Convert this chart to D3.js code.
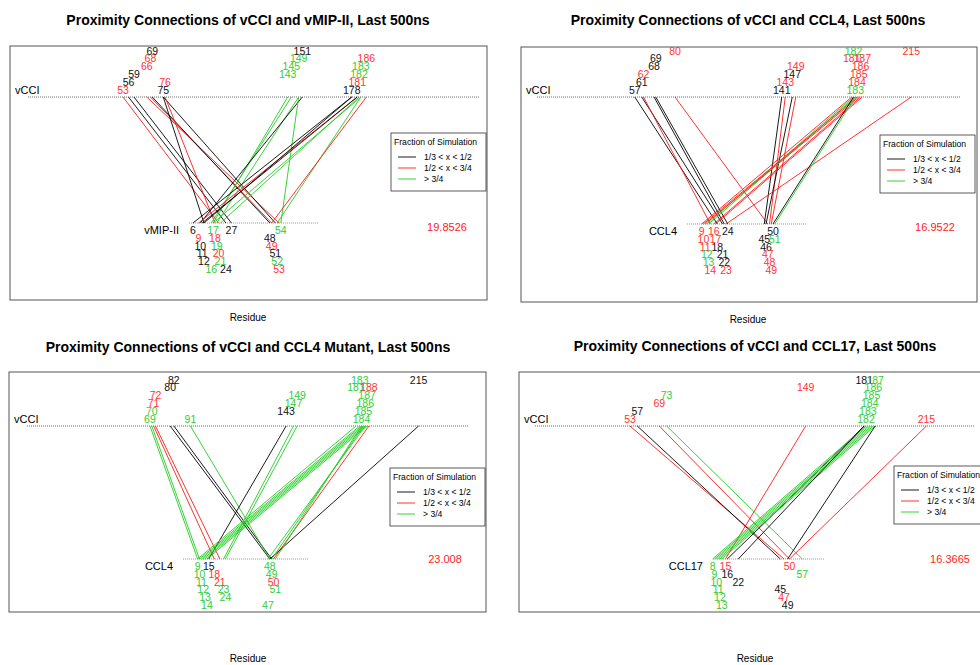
<!DOCTYPE html>
<html>
<head>
<meta charset="utf-8">
<script src="https://cdn.jsdelivr.net/npm/d3@7"></script>
<style>
  body { margin: 0; background: #fff; }
  svg { display: block; font-family: "Liberation Sans", Arial, sans-serif; }
</style>
</head>
<body>
<svg id="chart" width="980" height="665"></svg>
<script>
// class: 1 = 1/3 < x < 1/2, 2 = 1/2 < x < 3/4, 3 = > 3/4

const titles = [
    'Proximity Connections of vCCI and vMIP-II, Last 500ns',
    'Proximity Connections of vCCI and CCL4, Last 500ns',
    'Proximity Connections of vCCI and CCL4 Mutant, Last 500ns',
    'Proximity Connections of vCCI and CCL17, Last 500ns',
];
const partners = ['vMIP-II', 'CCL4', 'CCL4', 'CCL17'];
const scores = ['19.8526', '16.9522', '23.008', '16.3665'];
const legendLabels = ['1/3 < x < 1/2', '1/2 < x < 3/4', '> 3/4'];

// vMIP-II panel
const p1Top = [53, 56, 59, 66, 68, 69, 75, 76, 143, 145, 149, 151, 178, 181, 182, 183, 186];
const p1TopCls = [2, 1, 1, 2, 2, 1, 1, 2, 3, 3, 3, 1, 1, 2, 3, 3, 2];
const p1Bot = [6, 9, 10, 11, 12, 16, 17, 18, 19, 20, 21, 24, 27, 48, 49, 51, 52, 53, 54];
const p1BotCls = [1, 2, 1, 1, 1, 3, 3, 2, 3, 2, 3, 1, 1, 1, 2, 1, 3, 2, 3];
const p1Links = [
    [53, 20, 2], [56, 24, 1], [59, 27, 1], [66, 53, 2], [68, 49, 2], [69, 48, 1],
    [75, 51, 1], [76, 18, 2], [75, 12, 1], [143, 17, 3], [145, 16, 3], [149, 19, 3],
    [151, 10, 1], [149, 54, 3], [178, 6, 1], [181, 9, 2], [182, 21, 3], [183, 17, 3],
    [181, 11, 1], [183, 52, 3], [186, 49, 2], [178, 12, 1],
];

// CCL4 panel
const p2Top = [57, 61, 62, 68, 69, 80, 141, 143, 147, 149, 181, 182, 183, 184, 185, 186, 187, 215];
const p2TopCls = [1, 1, 2, 1, 1, 2, 1, 2, 1, 2, 2, 3, 3, 2, 2, 2, 2, 2];
const p2Bot = [9, 10, 11, 12, 13, 14, 16, 17, 18, 21, 22, 23, 24, 45, 46, 47, 48, 49, 50, 51];
const p2BotCls = [2, 2, 2, 3, 3, 2, 2, 2, 1, 1, 1, 2, 1, 1, 1, 2, 2, 2, 1, 3];
const p2Links = [
    [57, 18, 1], [61, 21, 1], [62, 14, 2], [68, 22, 1], [69, 24, 1], [80, 47, 2],
    [141, 45, 1], [143, 48, 2], [147, 46, 1], [149, 49, 2], [181, 9, 2], [182, 12, 3],
    [183, 13, 3], [184, 10, 2], [185, 11, 2], [186, 16, 2], [187, 17, 2], [215, 23, 2],
    [183, 51, 3], [182, 50, 1],
];

// CCL4 mutant panel
const p3Top = [69, 70, 71, 72, 80, 82, 91, 143, 147, 149, 181, 183, 184, 185, 186, 187, 188, 215];
const p3TopCls = [3, 3, 2, 2, 1, 1, 3, 1, 3, 3, 3, 3, 3, 3, 3, 3, 2, 1];
const p3Bot = [9, 10, 11, 12, 13, 14, 15, 18, 21, 23, 24, 47, 48, 49, 50, 51];
const p3BotCls = [3, 3, 3, 3, 3, 3, 1, 2, 2, 3, 3, 3, 3, 3, 2, 3];
const p3Links = [
    [69, 9, 3], [70, 10, 3], [71, 18, 2], [72, 21, 2], [80, 48, 1], [82, 49, 1],
    [91, 48, 3], [143, 15, 1], [147, 23, 3], [149, 24, 3], [181, 9, 3], [183, 10, 3],
    [184, 11, 3], [185, 12, 3], [186, 13, 3], [187, 14, 3], [188, 50, 2], [215, 48, 1],
    [184, 51, 3], [186, 47, 3], [185, 49, 3],
];

// CCL17 panel
const p4Top = [53, 57, 69, 73, 149, 181, 182, 183, 184, 185, 186, 187, 215];
const p4TopCls = [2, 1, 2, 3, 2, 1, 3, 3, 3, 3, 3, 3, 2];
const p4Bot = [8, 9, 10, 11, 12, 13, 15, 16, 22, 45, 47, 49, 50, 57];
const p4BotCls = [3, 3, 3, 3, 3, 3, 2, 1, 1, 1, 2, 1, 2, 3];
const p4Links = [
    [53, 47, 2], [57, 45, 1], [69, 50, 2], [73, 57, 3], [149, 15, 2], [181, 16, 1],
    [182, 8, 3], [183, 9, 3], [184, 10, 3], [185, 11, 3], [186, 12, 3], [187, 13, 3],
    [215, 50, 2], [181, 22, 1], [187, 49, 1],
];

const panelData = [
    { top: p1Top, topCls: p1TopCls, bot: p1Bot, botCls: p1BotCls, links: p1Links },
    { top: p2Top, topCls: p2TopCls, bot: p2Bot, botCls: p2BotCls, links: p2Links },
    { top: p3Top, topCls: p3TopCls, bot: p3Bot, botCls: p3BotCls, links: p3Links },
    { top: p4Top, topCls: p4TopCls, bot: p4Bot, botCls: p4BotCls, links: p4Links },
];

// layout of each panel (pixels)
const layout = [
    { box: [10, 46, 477, 254], titleX: 248, titleY: 25, resY: 321, topY: 97, botY: 223,
      top: [26, 1.83], topLine: [28, 480], bot: [182, 1.83], botLine: [189, 318],
      score: [447, 231], legend: [391, 133] },
    { box: [521, 47, 456, 255], titleX: 748, titleY: 25, resY: 323, topY: 97, botY: 224,
      top: [535, 1.75], topLine: [537, 960], bot: [686, 1.74], botLine: [687, 807],
      score: [935, 231], legend: [880, 135] },
    { box: [9, 372, 477, 240], titleX: 248, titleY: 352, resY: 662, topY: 426, botY: 559,
      top: [23, 1.84], topLine: [27, 468], bot: [181, 1.85], botLine: [183, 309],
      score: [445, 563], legend: [390, 468] },
    { box: [519, 372, 475, 240], titleX: 755, titleY: 351, resY: 662, topY: 426, botY: 559,
      top: [533, 1.83], topLine: [535, 975], bot: [698, 1.83], botLine: [713, 825],
      score: [950, 563], legend: [894, 466] },
];

const colors = { 1: '#000000', 2: '#ff1a1a', 3: '#22cc22' };
const labelColors = { 1: '#111111', 2: '#ff3333', 3: '#33cc33' };
const rowGap = 7.8;
const fontSize = 10.5;

const svg = d3.select('#chart');

layout.forEach((L, i) => {
    const D = panelData[i];
    const g = svg.append('g');

    g.append('text')
        .attr('x', L.titleX).attr('y', L.titleY)
        .attr('text-anchor', 'middle')
        .attr('font-size', '14px').attr('font-weight', 'bold')
        .text(titles[i]);

    g.append('rect')
        .attr('x', L.box[0]).attr('y', L.box[1])
        .attr('width', L.box[2]).attr('height', L.box[3])
        .attr('fill', 'none').attr('stroke', '#555').attr('stroke-width', 1);

    g.append('text')
        .attr('x', L.titleX).attr('y', L.resY)
        .attr('text-anchor', 'middle').attr('font-size', '10px')
        .text('Residue');

    const xTop = d3.scaleLinear().domain([0, 100]).range([L.top[0], L.top[0] + 100 * L.top[1]]);
    const xBot = d3.scaleLinear().domain([0, 100]).range([L.bot[0], L.bot[0] + 100 * L.bot[1]]);

    // reference lines
    g.append('line')
        .attr('x1', L.topLine[0]).attr('x2', L.topLine[1])
        .attr('y1', L.topY).attr('y2', L.topY)
        .attr('stroke', '#444').attr('stroke-width', 0.8).attr('stroke-dasharray', '1,1');
    g.append('line')
        .attr('x1', L.botLine[0]).attr('x2', L.botLine[1])
        .attr('y1', L.botY).attr('y2', L.botY)
        .attr('stroke', '#ff4444').attr('stroke-width', 0.8).attr('stroke-dasharray', '1,1');

    // connections
    g.selectAll('line.link')
        .data(D.links)
        .enter()
        .append('line')
        .attr('class', 'link')
        .attr('x1', (d) => xTop(d[0])).attr('y1', L.topY)
        .attr('x2', (d) => xBot(d[1])).attr('y2', L.botY)
        .attr('stroke', (d) => colors[d[2]])
        .attr('stroke-width', 0.9);

    // residue labels, stacked in 6 rows cycling
    g.selectAll('text.top')
        .data(D.top)
        .enter()
        .append('text')
        .attr('x', (d) => xTop(d))
        .attr('y', (d, j) => L.topY - 3.5 - (j % 6) * rowGap)
        .attr('text-anchor', 'middle')
        .attr('font-size', fontSize + 'px')
        .attr('fill', (d, j) => labelColors[D.topCls[j]])
        .text((d) => d);

    g.selectAll('text.bot')
        .data(D.bot)
        .enter()
        .append('text')
        .attr('x', (d) => xBot(d))
        .attr('y', (d, j) => L.botY + 11 + (j % 6) * rowGap)
        .attr('text-anchor', 'middle')
        .attr('font-size', fontSize + 'px')
        .attr('fill', (d, j) => labelColors[D.botCls[j]])
        .text((d) => d);

    g.append('text')
        .attr('x', L.box[0] + 5).attr('y', L.topY - 3.5)
        .attr('font-size', '11px')
        .text('vCCI');
    g.append('text')
        .attr('x', L.botLine[0] - 10).attr('y', L.botY + 11)
        .attr('text-anchor', 'end')
        .attr('font-size', '11px')
        .text(partners[i]);

    g.append('text')
        .attr('x', L.score[0]).attr('y', L.score[1])
        .attr('text-anchor', 'middle')
        .attr('font-size', '11px').attr('fill', '#ff2222')
        .text(scores[i]);

    // legend
    const lg = g.append('g').attr('transform', `translate(${L.legend[0]},${L.legend[1]})`);
    lg.append('rect')
        .attr('width', 95).attr('height', 58)
        .attr('fill', '#fff').attr('stroke', '#333').attr('stroke-width', 0.8);
    lg.append('text')
        .attr('x', 3).attr('y', 12)
        .attr('font-size', '8.6px')
        .text('Fraction of Simulation');
    legendLabels.forEach((t, j) => {
        lg.append('line')
            .attr('x1', 7).attr('x2', 25)
            .attr('y1', 24 + j * 11).attr('y2', 24 + j * 11)
            .attr('stroke', colors[j + 1]).attr('stroke-width', 0.9);
        lg.append('text')
            .attr('x', 33).attr('y', 27 + j * 11)
            .attr('font-size', '8.6px')
            .text(t);
    });
});
</script>
</body>
</html>
